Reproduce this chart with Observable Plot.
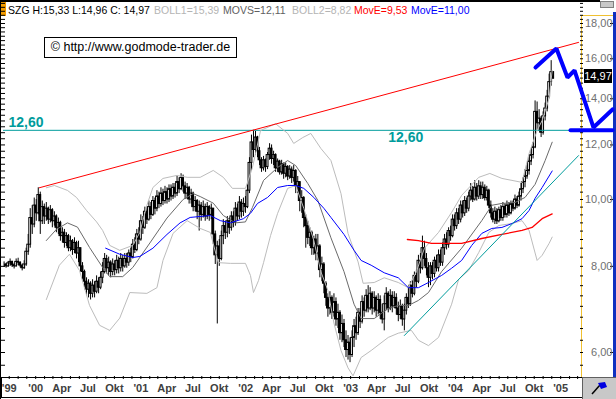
<!DOCTYPE html>
<html>
<head>
<meta charset="utf-8">
<script src="https://cdn.jsdelivr.net/npm/d3@7"></script>
<script src="https://cdn.jsdelivr.net/npm/@observablehq/plot@0.6"></script>
<style>
  html,body{margin:0;padding:0;background:#fff;}
  #chart{position:relative;width:616px;height:399px;overflow:hidden;background:#fff;font-family:"Liberation Sans",Arial,sans-serif;}
  #chart svg{position:absolute;left:0;top:0;}
  .abs{position:absolute;}
  .hdr{position:absolute;top:5px;font-size:10.5px;line-height:11px;white-space:nowrap;}
</style>
</head>
<body>
<div id="chart">
  <div class="abs" style="left:0;top:0;width:600px;height:2px;background:#000"></div>
  <div class="abs" style="left:0;top:0;width:1px;height:399px;background:#000"></div>
  <div class="abs" style="left:1px;top:2px;width:5px;height:14px;background:#f39c00"></div>
  <div class="abs" style="left:600px;top:1px;width:12px;height:5px;background:#c8c8c8;border:1px solid #808080"></div>
  <div class="abs" style="left:581px;top:15px;width:1px;height:362px;background:#f0c030"></div>
  <div class="abs" style="left:581px;top:15px;width:32px;height:1px;background:#f0c030"></div>
  <div class="abs" style="left:613px;top:12px;width:3px;height:366px;background:#1030c0"></div>
  <div class="abs" style="left:1px;top:377px;width:580px;height:19px;border:1px solid #000;background:#fff"></div>
  <div class="abs" style="left:582px;top:377px;width:33px;height:21px;border:1px solid #606060;background:#c8c8c8">
    <svg width="33" height="21" style="position:absolute;left:0;top:0"><line x1="9" y1="16" x2="17" y2="7" stroke="#000" stroke-width="1.5"/><path d="M15 5 L22 4 L24 9 L18 11 Z" fill="#0000e0"/></svg>
  </div>
  <div id="pricebox" class="abs" style="left:584px;width:28px;height:14px;background:#000;color:#fff;font-size:11px;line-height:14px;text-align:center"></div>
</div>
<script>
const startWeek = "1999-09-13";
const closes = [
8.05,8.0,8.08,8.12,8.03,8.0,8.12,8.1,8.02,7.95,
8.05,8.4,8.6,9.4,9.2,9.8,9.55,10.15,9.3,9.75,
9.45,9.7,9.35,9.65,9.3,9.45,9.1,9.25,8.85,8.95,
8.65,8.85,8.5,8.7,8.45,8.65,8.35,8.5,8.0,7.85,
7.6,7.4,7.55,7.3,7.5,7.35,7.6,7.45,7.7,7.85,
8.2,7.95,8.1,7.85,8.05,7.9,8.15,7.95,8.2,8.0,
8.2,8.1,8.35,8.25,8.6,8.45,8.9,8.75,9.3,9.1,
9.6,9.35,9.75,9.5,9.95,9.7,10.1,9.85,10.2,9.95,
10.25,10.0,10.35,10.1,10.4,10.2,10.6,10.35,10.75,10.45,
10.2,10.4,10.0,10.2,9.75,9.95,9.6,9.8,9.5,9.75,
9.45,9.75,9.5,9.7,8.9,8.3,8.55,8.2,8.85,9.15,
8.95,9.3,9.1,9.45,9.25,9.7,9.45,9.9,9.6,9.85,
9.75,10.3,11.3,12.1,11.8,12.3,11.75,11.4,11.1,11.4,
11.15,11.6,11.85,11.45,11.6,11.1,11.35,10.95,11.25,10.9,
11.15,10.8,11.05,10.75,11.0,10.45,10.6,9.95,10.05,9.4,
9.15,8.8,8.95,8.5,8.75,8.35,8.55,7.9,8.05,7.55,
7.2,6.95,7.2,6.85,7.1,6.7,6.85,6.4,6.6,6.25,
6.05,6.2,5.95,6.3,6.55,6.4,6.85,6.65,7.1,6.9,
7.25,6.95,7.3,6.95,7.2,6.9,7.15,6.85,6.7,7.05,
7.3,6.95,7.25,7.0,7.2,6.95,6.8,7.0,6.7,6.9,
7.2,7.05,7.5,7.3,7.75,7.6,8.15,7.95,8.5,8.2,
7.95,7.7,8.0,7.8,8.15,7.95,8.3,8.1,8.5,8.75,
8.6,9.0,8.85,9.35,9.15,9.55,9.35,9.8,9.55,9.95,
9.7,10.1,10.3,10.0,10.4,10.1,10.45,10.15,10.4,10.05,
10.3,9.8,9.55,9.35,9.6,9.3,9.65,9.4,9.75,9.5,
9.8,9.55,9.85,9.7,10.0,9.8,10.1,10.35,10.6,10.8,
11.0,11.35,11.6,11.9,13.4,12.9,13.1,12.5,13.2,13.55,
14.1,14.8,15.3,14.97];
const lows = [
7.98,7.95,7.97,8.0,7.97,7.93,7.98,8.02,7.96,7.88,
7.92,8.0,8.3,8.5,8.9,9.1,9.3,9.5,8.9,9.2,
9.2,9.3,9.2,9.25,9.1,9.15,8.95,8.9,8.7,8.65,
8.5,8.55,8.4,8.4,8.3,8.35,8.2,8.1,7.85,7.65,
7.45,7.25,7.2,7.15,7.2,7.2,7.3,7.3,7.4,7.55,
7.8,7.8,7.75,7.7,7.75,7.75,7.8,7.8,7.85,7.85,
7.95,7.95,8.0,8.1,8.2,8.35,8.4,8.6,8.7,8.9,
9.05,9.2,9.3,9.35,9.45,9.5,9.6,9.7,9.75,9.8,
9.85,9.85,9.9,9.95,10.0,10.05,10.1,10.2,10.3,10.25,
10.0,10.0,9.85,9.85,9.6,9.6,9.35,9.0,9.3,9.4,
9.3,9.35,9.3,9.35,8.6,8.05,6.6,8.0,8.15,8.6,
8.75,8.8,8.9,9.0,9.1,9.15,9.3,9.35,9.4,9.45,
9.55,9.7,10.2,11.0,11.5,11.6,11.5,11.2,10.95,11.0,
10.95,11.05,11.4,11.25,11.2,10.95,10.95,10.85,10.85,10.7,
10.75,10.65,10.7,10.55,10.6,10.2,10.2,9.6,9.55,9.1,
8.5,8.6,8.55,8.3,8.3,8.15,8.15,7.7,7.6,7.3,
7.0,6.75,6.8,6.7,6.75,6.55,6.5,6.25,6.2,6.1,
5.9,5.85,5.8,5.9,6.1,6.25,6.35,6.5,6.6,6.75,
6.85,6.85,6.9,6.8,6.85,6.75,6.8,6.7,6.6,6.45,
6.9,6.85,6.9,6.85,6.95,6.8,6.65,6.7,6.55,6.45,
6.8,6.95,7.0,7.2,7.25,7.45,7.55,7.8,7.9,8.0,
7.75,7.45,7.5,7.65,7.7,7.85,7.85,8.0,8.0,8.3,
8.45,8.5,8.7,8.8,9.0,9.05,9.2,9.25,9.4,9.45,
9.55,9.6,9.95,9.9,9.95,9.95,10.0,10.0,10.0,9.95,
9.95,9.7,9.4,9.25,9.2,9.2,9.25,9.3,9.3,9.4,
9.4,9.45,9.5,9.6,9.65,9.7,9.75,9.95,10.2,10.4,
10.7,10.85,11.2,11.45,11.85,12.6,12.55,12.3,12.4,13.0,
13.4,14.0,14.6,14.96];
const highs = [
8.12,8.08,8.13,8.2,8.14,8.08,8.2,8.22,8.12,8.06,
8.15,8.5,8.9,9.7,9.8,10.05,10.0,10.4,10.25,9.95,
9.85,9.9,9.75,9.8,9.7,9.6,9.5,9.4,9.3,9.1,
9.05,8.95,8.9,8.85,8.75,8.8,8.7,8.7,8.5,8.1,
7.9,7.7,7.65,7.6,7.65,7.6,7.75,7.7,7.85,8.1,
8.35,8.3,8.25,8.15,8.2,8.15,8.3,8.25,8.35,8.3,
8.35,8.35,8.45,8.5,8.75,8.8,9.05,9.1,9.5,9.45,
9.75,9.75,9.95,9.9,10.1,10.05,10.3,10.25,10.4,10.35,
10.45,10.4,10.5,10.5,10.55,10.55,10.8,10.75,10.9,10.85,
10.6,10.55,10.45,10.35,10.25,10.1,10.0,9.95,9.9,9.95,
9.85,9.9,9.8,9.85,9.7,9.0,8.7,8.75,9.0,9.35,
9.3,9.45,9.4,9.6,9.6,9.9,9.85,10.1,10.0,10.05,
10.1,10.5,11.5,12.4,12.6,12.55,12.35,11.9,11.5,11.55,
11.45,11.7,12.05,12.0,11.75,11.65,11.45,11.4,11.4,11.3,
11.3,11.2,11.2,11.15,11.2,11.05,10.8,10.6,10.3,10.1,
9.5,9.3,9.1,9.0,8.85,8.9,8.9,8.6,8.25,8.1,
7.6,7.3,7.35,7.25,7.3,7.2,7.05,6.9,6.8,6.7,
6.45,6.35,6.3,6.45,6.7,6.75,6.95,6.95,7.25,7.2,
7.4,7.5,7.45,7.35,7.35,7.25,7.3,7.25,7.05,7.25,
7.45,7.35,7.4,7.35,7.35,7.3,7.1,7.15,7.05,7.05,
7.3,7.45,7.6,7.65,7.85,7.9,8.3,8.35,8.85,8.7,
8.35,8.1,8.1,8.1,8.25,8.3,8.45,8.45,8.65,8.9,
8.95,9.1,9.15,9.5,9.5,9.7,9.7,9.95,9.95,10.1,
10.05,10.25,10.55,10.45,10.65,10.55,10.65,10.6,10.6,10.5,
10.45,10.35,9.95,9.7,9.75,9.7,9.75,9.8,9.9,9.85,
9.95,9.9,9.95,9.95,10.15,10.1,10.25,10.55,10.75,11.05,
11.2,11.5,11.8,12.1,13.9,13.85,13.5,13.2,13.4,13.8,
14.4,15.2,15.9,15.33];

// [week index, value]
const movs = [[21,8.72],[26,9.05],[31.5,9.25],[36.5,9.12],[42.5,8.52],[49,7.97],[52.5,7.73],[59,7.73],[64,7.97],[72.5,8.65],[81,9.4],[89,10.0],[94,10.2],[97.5,10.1],[104,9.88],[109,9.48],[115,9.25],[120,9.28],[123.5,9.74],[129,10.66],[136,11.13],[141,11.39],[145,11.2],[151,10.55],[156,9.97],[162.5,8.8],[169,7.86],[174,7.05],[177.5,6.72],[184,6.72],[191,6.95],[196,7.02],[201,7.02],[206,7.14],[211,7.33],[217.5,7.86],[227.5,8.5],[237.5,9.32],[242.5,9.81],[247.5,9.87],[254,9.9],[259,10.07],[264,10.52],[269,11.39],[272.5,12.11]];
const bollUp = [[21,10.4],[25,10.48],[31.5,10.31],[36,10.07],[41,9.64],[46,9.28],[49,9.02],[52.5,8.58],[57.5,8.44],[64,8.58],[67.5,8.96],[71,9.81],[74,10.41],[79,10.73],[86,10.84],[91,10.77],[97.5,10.77],[104,11.02],[109,10.77],[113.5,10.38],[120,10.38],[123.5,11.13],[127.5,12.59],[135,12.88],[141,12.47],[144,12.06],[148.5,12.3],[152.5,12.47],[157.5,11.86],[162.5,11.39],[167.5,10.2],[171,8.93],[176,8.12],[178.5,7.56],[184,7.58],[189,7.7],[196,7.58],[201,7.45],[205,7.86],[209,8.5],[216,8.96],[222.5,9.58],[227.5,10.14],[236,10.77],[241.5,10.91],[247.5,10.73],[252.5,10.66],[257.5,10.59],[261,11.66],[265,12.59],[267.5,13.02],[271,14.03],[272.5,15.39]];
const bollDn = [[21,7.16],[27.5,8.03],[32.5,8.33],[37.5,7.89],[42.5,7.02],[47.5,6.57],[52.5,6.46],[57.5,6.73],[62.5,7.33],[71,7.31],[76,7.45],[79,8.16],[84,8.93],[91,9.32],[97.5,9.08],[102.5,8.96],[106.5,8.1],[112.5,8.08],[120,8.08],[122.5,7.76],[124,7.33],[126.5,7.63],[129,8.1],[132.5,8.87],[136,9.55],[141,10.38],[145,10.48],[149,9.71],[154,8.72],[157.5,7.86],[161,7.38],[164,6.62],[167.5,6.04],[171,5.7],[173.5,5.55],[177.5,5.9],[182.5,6.04],[191,6.31],[196,6.4],[202.5,6.46],[206,6.25],[211,6.14],[216,6.31],[222.5,7.05],[226,7.66],[231,7.89],[236,8.38],[241,8.96],[246,9.17],[252.5,9.23],[257.5,9.32],[261,9.02],[265,8.16],[267.5,8.3],[271,8.64],[272.5,8.82]];
const emaBlue = [[50.5,8.5],[57.5,8.33],[64,8.24],[67.5,8.27],[74,8.5],[81,8.9],[87.5,9.25],[92.5,9.42],[102.5,9.48],[107.5,9.32],[112.5,9.25],[119,9.38],[122.5,9.55],[126,9.87],[131,10.07],[136,10.41],[141,10.48],[145,10.48],[149,10.38],[154,10.07],[159,9.71],[162.5,9.42],[169,8.9],[174,8.44],[177.5,8.16],[182.5,8.03],[189,7.83],[196,7.7],[201,7.45],[206,7.45],[211,7.58],[217.5,7.76],[222.5,7.95],[227.5,8.16],[232.5,8.58],[237.5,8.93],[242.5,9.08],[247.5,9.11],[252.5,9.23],[257.5,9.38],[261,9.64],[264,10.04],[267.5,10.41],[272.5,11.0]];
const emaRed = [[200.5,8.75],[206,8.72],[212.5,8.64],[217.5,8.64],[227.5,8.64],[237.5,8.78],[247.5,8.9],[257.5,9.02],[262.5,9.11],[267.5,9.38],[272.5,9.53]];
const trendRed = [[17.5,10.4],[285.6,16.9]];
const trendTeal = [[199,6.35],[285.6,11.58]];
const projection = [[264.2,15.54],[274.6,16.56],[280.1,15.03],[283.6,15.39],[293,12.72],[302.5,13.51]];
const projBase = [[281.6,12.6],[302.5,12.6]];
const level = 12.6;
const levelLabelDate = "2003-05-12";
const lastClose = 14.97;
const yTicks = [6,8,10,12,14,16,18];
const xTickDates = ["1999-10-01","2000-01-01","2000-04-01","2000-07-01","2000-10-01","2001-01-01","2001-04-01","2001-07-01","2001-10-01","2002-01-01","2002-04-01","2002-07-01","2002-10-01","2003-01-01","2003-04-01","2003-07-01","2003-10-01","2004-01-01","2004-04-01","2004-07-01","2004-10-01","2005-01-01"];
const xTickLabels = ["'99","'00","Apr","Jul","Okt","'01","Apr","Jul","Okt","'02","Apr","Jul","Okt","'03","Apr","Jul","Okt","'04","Apr","Jul","Okt","'05"];
const hdrTexts = ["SZG H:15,33 L:14,96 C: 14,97","BOLL1=15,39","MOVS=12,11","BOLL2=8,82","MovE=9,53","MovE=11,00"];
const hdrColors = ["#000","#b4b4b4","#606060","#b4b4b4","#ff0000","#0000ff"];
const hdrLeft = [8,154,223,292,354,411];

const DAY = 864e5;
const t0 = Date.parse(startWeek);
const wk = i => new Date(t0 + i * 7 * DAY);
const X = d => wk(d[0]), Y = d => d[1];
const candles = closes.map((c, i) => ({date: wk(i), open: i ? closes[i-1] : c, close: c, high: highs[i], low: lows[i]}));
const labelMap = new Map(xTickDates.map((s, i) => [Date.parse(s), xTickLabels[i]]));
const monthTicks = d3.utcMonth.range(new Date("1999-10-01"), new Date("2005-03-02"));
const minorTicks = d3.range(5.75, 19.3, 0.25);
const teal = "#009c9c";

const plot = Plot.plot({
  width: 616, height: 399,
  marginTop: 2, marginRight: 34, marginBottom: 23, marginLeft: 3,
  style: {background: "none", overflow: "visible", fontFamily: '"Liberation Sans", Arial, sans-serif'},
  x: {type: "utc", domain: [new Date("1999-09-11"), new Date("2005-03-18")]},
  y: {type: "log", domain: [5.538, 19.308]},
  marks: [
    Plot.axisX(monthTicks, {anchor: "bottom", tickSize: 3, tickFormat: () => "", stroke: "#000"}),
    Plot.axisX(xTickDates.map(s => new Date(s)), {anchor: "bottom", tickSize: 0, tickPadding: 8, tickFormat: d => labelMap.get(+d), fontSize: 11, fontWeight: "bold", fill: "#404040"}),
    Plot.axisY(minorTicks, {anchor: "left", tickSize: 4, dx: 2, tickFormat: () => "", stroke: "#000"}),
    Plot.axisY(minorTicks, {anchor: "right", tickSize: 3, dx: -3, tickFormat: () => "", stroke: "#000"}),
    Plot.axisY(yTicks, {anchor: "right", tickSize: 3, tickPadding: 0, dx: 27, textAnchor: "end", tickFormat: d => d.toFixed(2).replace(".", ","), fill: "#707070", stroke: "#000", fontSize: 11}),
    Plot.ruleX(candles, {x: "date", y1: "low", y2: "high", stroke: "#000", strokeWidth: 1}),
    Plot.rect(candles, {x1: d => new Date(+d.date - 3.2 * DAY), x2: d => new Date(+d.date + 3.2 * DAY), y1: "open", y2: "close", fill: d => d.close >= d.open ? "#fff" : "#000", stroke: "#000", strokeWidth: 1}),
    Plot.ruleY([level], {stroke: teal, strokeWidth: 1}),
    Plot.line(bollUp, {x: X, y: Y, stroke: "#bcbcbc", strokeWidth: 1}),
    Plot.line(bollDn, {x: X, y: Y, stroke: "#bcbcbc", strokeWidth: 1}),
    Plot.line(movs, {x: X, y: Y, stroke: "#6a6a6a", strokeWidth: 1}),
    Plot.line(emaBlue, {x: X, y: Y, stroke: "#0000ff", strokeWidth: 1}),
    Plot.line(emaRed, {x: X, y: Y, stroke: "#ff0000", strokeWidth: 1.3}),
    Plot.line(trendRed, {x: X, y: Y, stroke: "#ff0000", strokeWidth: 1}),
    Plot.line(trendTeal, {x: X, y: Y, stroke: teal, strokeWidth: 1}),
    Plot.text([level], {y: d => d, text: () => "12,60", frameAnchor: "left", dx: 5, dy: -3, lineAnchor: "bottom", textAnchor: "start", fill: teal, fontWeight: "bold", fontSize: 14}),
    Plot.text([level], {x: () => new Date(levelLabelDate), y: d => d, text: () => "12,60", dy: 2, lineAnchor: "top", textAnchor: "start", fill: teal, fontWeight: "bold", fontSize: 14}),
    Plot.line(projection, {x: X, y: Y, stroke: "#0000ff", strokeWidth: 4, strokeLinejoin: "miter"}),
    Plot.line(projBase, {x: X, y: Y, stroke: "#0000ff", strokeWidth: 4})
  ]
});

const chart = document.getElementById("chart");
chart.insertBefore(plot, document.getElementById("pricebox"));
const pb = document.getElementById("pricebox");
pb.textContent = lastClose.toFixed(2).replace(".", ",");
pb.style.top = (plot.scale("y").apply(lastClose) - 9) + "px";

hdrTexts.forEach((t, i) => {
  const s = document.createElement("div");
  s.className = "hdr";
  s.style.left = hdrLeft[i] + "px";
  s.style.color = hdrColors[i];
  s.textContent = t;
  chart.appendChild(s);
});
const cp = document.createElement("div");
cp.className = "abs";
cp.style.cssText = "left:44px;top:37px;width:191px;height:19px;border:1px solid #000;background:#fff;font-size:12.5px;line-height:19px;text-align:center;white-space:nowrap;";
cp.textContent = "\u00A9 http://www.godmode-trader.de";
chart.appendChild(cp);
</script>
</body>
</html>
